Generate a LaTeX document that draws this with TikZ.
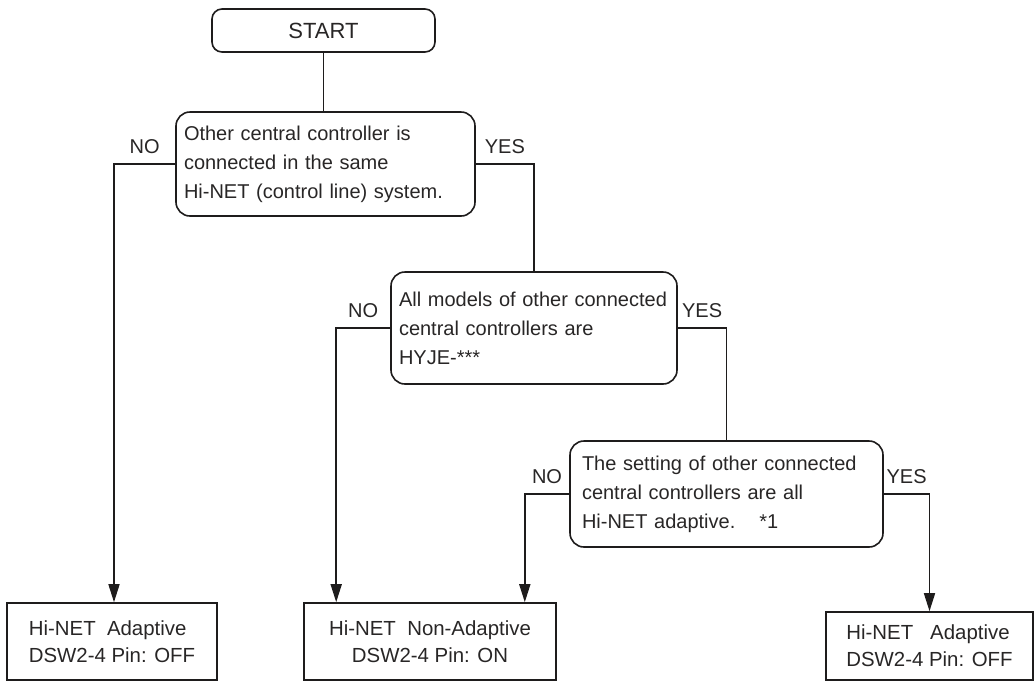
\documentclass[tikz,border=0pt]{standalone}
\usepackage{fontspec}
\setmainfont{Liberation Sans}
\usetikzlibrary{arrows.meta}
\definecolor{lineBlack}{RGB}{30,28,28}
\definecolor{textGray}{RGB}{40,38,38}
\tikzset{
  start node/.style={draw=lineBlack,rounded corners=5pt,line width=0.8pt,text=textGray,font=\fontsize{11}{13}\selectfont,minimum width=111.5pt,minimum height=21.5pt,inner sep=0pt},
  decision node/.style={draw=lineBlack,rounded corners=7pt,line width=0.8pt,text=textGray,align=left,font=\fontsize{10}{14.5}\selectfont,inner xsep=4pt,inner ysep=0pt},
  result node/.style={draw=lineBlack,line width=0.8pt,text=textGray,align=center,font=\fontsize{10.2}{13.5}\selectfont,inner sep=0pt},
  flow line/.style={line width=0.8pt,draw=lineBlack},
  flow arrow/.style={flow line,-{Triangle[length=9pt,width=5.5pt]}},
  branch label/.style={font=\fontsize{10}{12}\selectfont,text=textGray,inner sep=1pt,pos=0.25,above=4pt}
}
\begin{document}
\begin{tikzpicture}[x=0.5pt,y=-0.5pt]
  \useasboundingbox (0,0) rectangle (1034,682);
  \node[start node] (start) at (323.5,30.5) {START};
  \node[decision node,text width=141.5pt,minimum height=52pt] (connected) at (325.5,164) {Other central controller is\\connected in the same\\Hi-NET (control line) system.};
  \node[decision node,text width=135pt,minimum height=56pt] (models) at (534,328) {All models of other connected\\central controllers are\\HYJE-***};
  \node[decision node,inner xsep=6pt,text width=144.5pt,minimum height=53pt] (setting) at (726.5,494) {The setting of other connected\\central controllers are all\\Hi-NET adaptive.\hspace{12pt}*1};
  \node[result node,align=left,minimum width=105pt,minimum height=38.5pt] (adaptiveA) at (112,641.5) {Hi-NET\ \ Adaptive\\DSW2-4 Pin: OFF};
  \node[result node,minimum width=126pt,minimum height=38.5pt] (nonAdaptive) at (430,641.5) {Hi-NET\ \ Non-Adaptive\\DSW2-4 Pin: ON};
  \node[result node,align=left,minimum width=103.5pt,minimum height=34pt] (adaptiveB) at (929.5,646) {Hi-NET\ \ \ Adaptive\\DSW2-4 Pin: OFF};
  % branches
  \draw[flow line] (start.south) -- (start.south |- connected.north);
  \draw[flow arrow] (connected.west) -| node[branch label] {NO} ([xshift=1pt]adaptiveA.north);
  \draw[flow line] (connected.east) -| node[branch label] {YES} (models.north);
  \draw[flow arrow] (models.west) -| node[branch label] {NO} ([xshift=16.5pt]nonAdaptive.north west);
  \draw[flow line] (models.east) -| node[branch label] {YES} (setting.north);
  \draw[flow arrow] (setting.west) -| node[branch label] {NO} ([xshift=-16pt]nonAdaptive.north east);
  \draw[flow arrow] (setting.east) -| node[branch label] {YES} (adaptiveB.north);
\end{tikzpicture}
\end{document}
